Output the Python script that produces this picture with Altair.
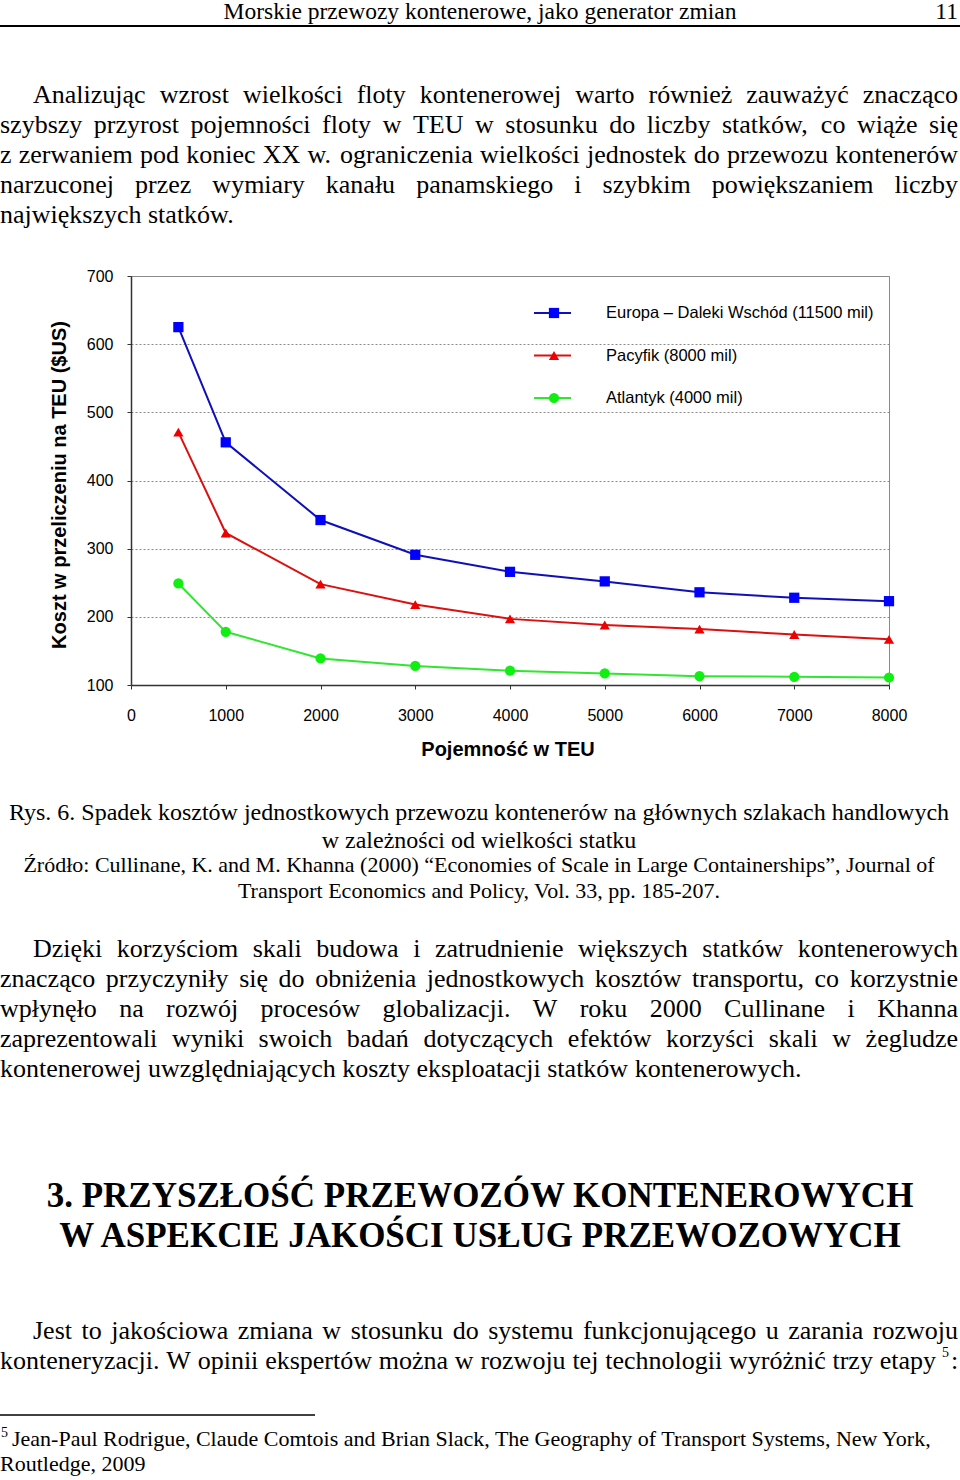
import altair as alt
import pandas as pd

# ---------------- chart data ----------------
capacity_teu = [500, 1000, 2000, 3000, 4000, 5000, 6000, 7000, 8000]
cost_europa = [625, 456, 342, 291, 266, 252, 236, 228, 223]
cost_pacyfik = [471, 323, 248, 218, 197, 188, 182, 174, 167]
cost_atlantyk = [249, 178, 139, 128, 121, 117, 113, 112, 111]
series_names = ["Europa – Daleki Wschód (11500 mil)", "Pacyfik (8000 mil)", "Atlantyk (4000 mil)"]
x_ticks = [0, 1000, 2000, 3000, 4000, 5000, 6000, 7000, 8000]
y_ticks = [100, 200, 300, 400, 500, 600, 700]
x_title = "Pojemność w TEU"
y_title = "Koszt w przeliczeniu na TEU ($US)"

# ---------------- page text ----------------
header_title = "Morskie przewozy kontenerowe, jako generator zmian"
page_number = "11"
para1 = [
    "Analizując wzrost wielkości floty kontenerowej warto również zauważyć znacząco",
    "szybszy przyrost pojemności floty w TEU w stosunku do liczby statków, co wiąże się",
    "z zerwaniem pod koniec XX w. ograniczenia wielkości jednostek do przewozu kontenerów",
    "narzuconej przez wymiary kanału panamskiego i szybkim powiększaniem liczby",
    "największych statków.",
]
caption = [
    "Rys. 6. Spadek kosztów jednostkowych przewozu kontenerów na głównych szlakach handlowych",
    "w zależności od wielkości statku",
]
source = [
    "Źródło: Cullinane, K. and M. Khanna (2000) “Economies of Scale in Large Containerships”, Journal of",
    "Transport Economics and Policy, Vol. 33, pp. 185-207.",
]
para2 = [
    "Dzięki korzyściom skali budowa i zatrudnienie większych statków kontenerowych",
    "znacząco przyczyniły się do obniżenia jednostkowych kosztów transportu, co korzystnie",
    "wpłynęło na rozwój procesów globalizacji. W roku 2000 Cullinane i Khanna",
    "zaprezentowali wyniki swoich badań dotyczących efektów korzyści skali w żegludze",
    "kontenerowej uwzględniających koszty eksploatacji statków kontenerowych.",
]
heading = [
    "3. PRZYSZŁOŚĆ PRZEWOZÓW KONTENEROWYCH",
    "W ASPEKCIE JAKOŚCI USŁUG PRZEWOZOWYCH",
]
para3 = [
    "Jest to jakościowa zmiana w stosunku do systemu funkcjonującego u zarania rozwoju",
    "konteneryzacji. W opinii ekspertów można w rozwoju tej technologii wyróżnić trzy etapy",
]
footnote_mark = "5"
para3_tail = ":"
footnote = [
    "Jean-Paul Rodrigue, Claude Comtois and Brian Slack, The Geography of Transport Systems, New York,",
    "Routledge, 2009",
]

# ---------------- layout ----------------
PAGE_W, PAGE_H = 960, 1480
PL, PT = 131, 276          # plot origin on the page
PW, PH = 758, 409          # plot size
SERIF = "Liberation Serif"
SANS = "Liberation Sans"

line_colors = ["#1010bb", "#dd1010", "#30e630"]
marker_colors = ["#0000ff", "#ee0000", "#11ee11"]
shapes = ["square", "triangle-up", "circle"]

# Times-compatible advance widths (per 1000 em) for justification
TW = {" ": 250, ".": 250, ",": 250, ":": 278, "(": 333, ")": 333, "-": 333, "“": 444, "”": 444}
for d in "0123456789":
    TW[d] = 500
TW.update(dict(a=444, b=500, c=444, d=500, e=444, f=333, g=500, h=500, i=278, j=278, k=500, l=278,
               m=778, n=500, o=500, p=500, q=500, r=333, s=389, t=278, u=500, v=500, w=722, x=500,
               y=500, z=444))
TW.update({"ą": 444, "ć": 444, "ę": 444, "ł": 278, "ń": 500, "ó": 500, "ś": 389, "ź": 444, "ż": 444})
TW.update(dict(A=722, B=667, C=667, D=722, E=611, F=556, G=722, H=722, I=333, J=389, K=722, L=611,
               M=889, N=722, O=722, P=556, Q=722, R=667, S=556, T=611, U=722, V=722, W=944, X=722,
               Y=722, Z=611))
TW.update({"Ź": 611, "Ł": 611, "Ś": 556, "Ć": 667, "Ó": 722})


def text_width(s, size):
    return sum(TW.get(c, 500) for c in s) * size / 1000.0


def layout_line(line, x0, x1, y, size, justify):
    words = line.split()
    rows = []
    if justify and len(words) > 1:
        widths = [text_width(w, size) for w in words]
        gap = (x1 - x0 - sum(widths)) / (len(words) - 1)
        x = x0
        for w, wd in zip(words, widths):
            rows.append(dict(t=w, px=x - PL, py=y - PT, fs=size))
            x += wd + gap
    else:
        rows.append(dict(t=line, px=x0 - PL, py=y - PT, fs=size))
    return rows


def layout_para(lines, y0, size, indent=33, right=958, last_right=None):
    rows = []
    for i, ln in enumerate(lines):
        x0 = indent if i == 0 else 0
        last = i == len(lines) - 1
        if last and last_right is not None:
            rows += layout_line(ln, x0, last_right, y0 + 30 * i, size, True)
        else:
            rows += layout_line(ln, x0, right, y0 + 30 * i, size, not last)
    return rows


left_rows = []
left_rows += layout_para(para1, 103, 26)
left_rows += layout_para(para2, 957, 26)
left_rows += layout_para(para3, 1339, 26, last_right=936)
left_rows.append(dict(t=para3_tail, px=951 - PL, py=1369 - PT, fs=26))
left_rows.append(dict(t=footnote_mark, px=942 - PL, py=1357 - PT, fs=14))
left_rows.append(dict(t=footnote_mark, px=1 - PL, py=1437 - PT, fs=14))
left_rows.append(dict(t=footnote[0], px=12 - PL, py=1446 - PT, fs=22))
left_rows.append(dict(t=footnote[1], px=0 - PL, py=1471 - PT, fs=22))

center_rows = [dict(t=header_title, px=480 - PL, py=19 - PT, fs=23.5)]
for i, ln in enumerate(caption):
    center_rows.append(dict(t=ln, px=479 - PL, py=820 + 28 * i - PT, fs=24))
for i, ln in enumerate(source):
    center_rows.append(dict(t=ln, px=479 - PL, py=872 + 26 * i - PT, fs=22))

heading_rows = [dict(t=ln, px=480 - PL, py=1207 + 40 * i - PT, fs=35) for i, ln in enumerate(heading)]

# ---------------- chart ----------------
rows = []
for name, vals in zip(series_names, [cost_europa, cost_pacyfik, cost_atlantyk]):
    for xv, yv in zip(capacity_teu, vals):
        rows.append({"series": name, "teu": xv, "cost": yv})
df = pd.DataFrame(rows)

color_scale = alt.Scale(domain=series_names, range=line_colors)
fill_scale = alt.Scale(domain=series_names, range=marker_colors)
shape_scale = alt.Scale(domain=series_names, range=shapes)

base = alt.Chart(df).encode(
    x=alt.X("teu:Q", scale=alt.Scale(domain=[0, 8000], nice=False, zero=False),
            axis=alt.Axis(values=x_ticks, format="d", title=None, grid=False, tickSize=4,
                          labelPadding=18, labelFlush=False, labelOverlap=False)),
    y=alt.Y("cost:Q", scale=alt.Scale(domain=[100, 700], nice=False, zero=False),
            axis=alt.Axis(values=y_ticks, format="d", title=None, grid=True, tickSize=4,
                          labelPadding=14, labelFlush=False, labelOverlap=False,
                          gridColor="#8a8a8a", gridDash=[2, 2], gridWidth=1)),
)
lines = base.mark_line(strokeWidth=2).encode(
    color=alt.Color("series:N", scale=color_scale, legend=None)
)
points = base.mark_point(filled=True, size=105, opacity=1, strokeWidth=0).encode(
    fill=alt.Fill("series:N", scale=fill_scale, legend=None),
    shape=alt.Shape("series:N", scale=shape_scale, legend=None),
)

leg = pd.DataFrame({"series": series_names, "rank": list(range(len(series_names)))})
leg["ly"] = 313 + 42.5 * leg["rank"] - PT
leg["lx1"] = 534 - PL
leg["lx2"] = 571 - PL
leg["lxp"] = 554 - PL
leg["lxt"] = 606 - PL
legend_rules = alt.Chart(leg).mark_rule(strokeWidth=2).encode(
    x=alt.X("lx1:Q", scale=None, axis=None), x2="lx2:Q",
    y=alt.Y("ly:Q", scale=None, axis=None),
    color=alt.Color("series:N", scale=color_scale, legend=None),
)
legend_points = alt.Chart(leg).mark_point(filled=True, size=105, opacity=1, strokeWidth=0).encode(
    x=alt.X("lxp:Q", scale=None, axis=None),
    y=alt.Y("ly:Q", scale=None, axis=None),
    fill=alt.Fill("series:N", scale=fill_scale, legend=None),
    shape=alt.Shape("series:N", scale=shape_scale, legend=None),
)
legend_text = alt.Chart(leg).mark_text(align="left", baseline="middle", font=SANS, fontSize=16.5,
                                        color="black").encode(
    x=alt.X("lxt:Q", scale=None, axis=None),
    y=alt.Y("ly:Q", scale=None, axis=None),
    text="series:N",
)

one = pd.DataFrame({"k": [0]})
x_title_mark = alt.Chart(one).mark_text(text=x_title, font=SANS, fontSize=20, fontWeight="bold",
                                        align="center", baseline="middle", color="black").encode(
    x=alt.value(508 - PL), y=alt.value(750 - PT))
y_title_mark = alt.Chart(one).mark_text(text=y_title, font=SANS, fontSize=20, fontWeight="bold",
                                        align="center", baseline="middle", angle=270,
                                        color="black").encode(
    x=alt.value(60 - PL), y=alt.value(485 - PT))

# ---------------- page text layers ----------------
left_text = alt.Chart(pd.DataFrame(left_rows)).mark_text(
    align="left", baseline="alphabetic", font=SERIF, color="black").encode(
    x=alt.X("px:Q", scale=None, axis=None), y=alt.Y("py:Q", scale=None, axis=None),
    text="t:N", size=alt.Size("fs:Q", scale=None))
center_text = alt.Chart(pd.DataFrame(center_rows)).mark_text(
    align="center", baseline="alphabetic", font=SERIF, color="black").encode(
    x=alt.X("px:Q", scale=None, axis=None), y=alt.Y("py:Q", scale=None, axis=None),
    text="t:N", size=alt.Size("fs:Q", scale=None))
heading_text = alt.Chart(pd.DataFrame(heading_rows)).mark_text(
    align="center", baseline="alphabetic", font=SERIF, fontWeight="bold", color="black").encode(
    x=alt.X("px:Q", scale=None, axis=None), y=alt.Y("py:Q", scale=None, axis=None),
    text="t:N", size=alt.Size("fs:Q", scale=None))
page_num = alt.Chart(one).mark_text(text=page_number, font=SERIF, fontSize=23.5, align="right",
                                    baseline="alphabetic", color="black").encode(
    x=alt.value(958 - PL), y=alt.value(19 - PT))
header_rule = alt.Chart(one).mark_rule(color="black", strokeWidth=2).encode(
    x=alt.value(0 - PL), x2=alt.value(PAGE_W - PL), y=alt.value(26 - PT))
foot_rule = alt.Chart(one).mark_rule(color="black", strokeWidth=1.5).encode(
    x=alt.value(0 - PL), x2=alt.value(315 - PL), y=alt.value(1415 - PT))

chart = alt.layer(
    lines, points, legend_rules, legend_points, legend_text, x_title_mark, y_title_mark,
    left_text, center_text, heading_text, page_num, header_rule, foot_rule,
).properties(
    width=PW, height=PH,
    autosize=alt.AutoSizeParams(type="none"),
    padding={"left": PL, "top": PT, "right": PAGE_W - PL - PW, "bottom": PAGE_H - PT - PH},
    background="white",
).configure_view(
    stroke="#8a8a8a", strokeWidth=1
).configure_axis(
    labelFont=SANS, labelFontSize=16, labelColor="black", tickColor="#333333",
    domainColor="#333333", domainWidth=1.5, tickWidth=1,
)

chart.save("out.html", embed_options={"renderer": "svg", "actions": False})
